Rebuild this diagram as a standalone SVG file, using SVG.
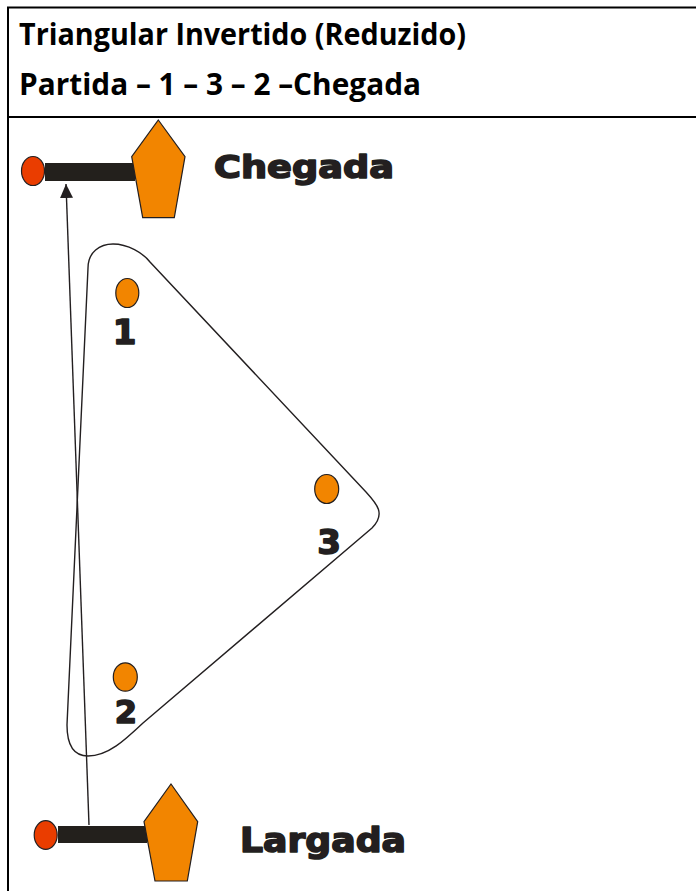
<svg xmlns="http://www.w3.org/2000/svg" width="696" height="891" viewBox="0 0 696 891">
<style>
.hdr{font-family:"Open Sans","Liberation Sans",sans-serif;font-weight:bold;fill:#000}
.big{font-family:"DejaVu Sans","Liberation Sans",sans-serif;font-weight:bold;fill:#231F20;stroke:#231F20;stroke-width:1.6;stroke-linejoin:round}
.buoy{fill:#F28500;stroke:#231F20;stroke-width:1.2}
.pin{fill:#EA3D00;stroke:#231F20;stroke-width:1.2}
.bar{fill:#23201C}
.ln{fill:none;stroke:#231F20;stroke-width:1.4}
</style>
<defs>
<marker id="ah" markerUnits="userSpaceOnUse" viewBox="0 0 14 13" refX="14" refY="6.5" markerWidth="14" markerHeight="13" orient="auto">
<path d="M0,0 L14,6.5 L0,13 z" fill="#231F20"/>
</marker>
</defs>
<rect width="696" height="891" fill="#fff"/>
<g id="table" fill="none" stroke="#000" stroke-width="2">
<path d="M8,891 L8,7.5 L696,7.5"/>
<path d="M8,117 L696,117"/>
</g>
<g id="header">
<text class="hdr" x="19" y="45" font-size="30" textLength="447" lengthAdjust="spacingAndGlyphs">Triangular Invertido (Reduzido)</text>
<text class="hdr" x="19" y="95" font-size="30" textLength="402" lengthAdjust="spacingAndGlyphs">Partida – 1 – 3 – 2 –Chegada</text>
</g>
<g id="connectors">
<path id="course" class="ln" d="M67,725 L88,268 C88,252 100,244 113,244 C128,244 143,253 150,262 L366,492 C377,504 386,514 372,528 L143,723 C125,740 108,756 88,756 C74,756 67,746 67,725 Z"/>
<path id="arrow" class="ln" d="M89,825 L66,184" marker-end="url(#ah)"/>
</g>
<g id="chegada">
<rect class="bar" x="45" y="163" width="90" height="18"/>
<ellipse class="pin" cx="33" cy="171" rx="11.5" ry="14.5"/>
<polygon class="buoy" points="158.3,120 185,156.7 174.3,217.7 142.7,217.7 131.7,156.7"/>
<text class="big" x="214" y="178" font-size="32" textLength="180" lengthAdjust="spacingAndGlyphs">Chegada</text>
</g>
<g id="largada">
<rect class="bar" x="58" y="826" width="89" height="17"/>
<ellipse class="pin" cx="45.7" cy="835" rx="11.5" ry="14.3"/>
<polygon class="buoy" points="171,784 197.7,821.7 187.3,881 155,881 144,821.7"/>
<text class="big" x="240" y="851.5" font-size="33" textLength="166" lengthAdjust="spacingAndGlyphs">Largada</text>
</g>
<g id="mark1">
<ellipse class="buoy" cx="127.3" cy="293" rx="11.5" ry="14.5"/>
<text class="big" x="124.5" y="343.5" font-size="34" text-anchor="middle">1</text>
</g>
<g id="mark3">
<ellipse class="buoy" cx="326.7" cy="489" rx="12" ry="14.5"/>
<text class="big" x="329" y="553.5" font-size="34" text-anchor="middle">3</text>
</g>
<g id="mark2">
<ellipse class="buoy" cx="125.3" cy="677" rx="12" ry="14.2"/>
<text class="big" x="126" y="722.5" font-size="32" text-anchor="middle">2</text>
</g>
</svg>
